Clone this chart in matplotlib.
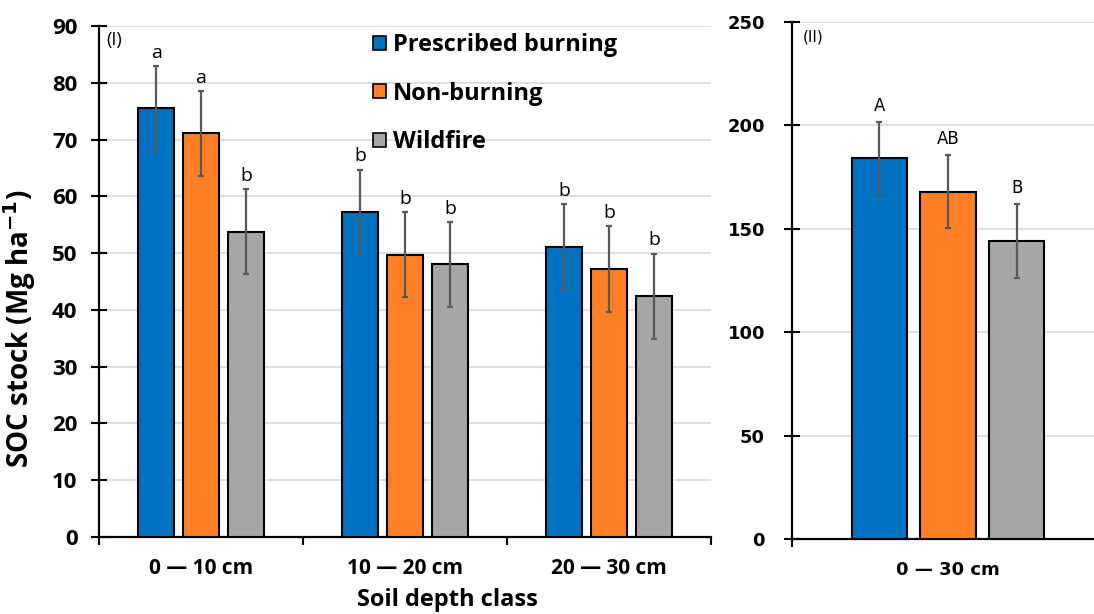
import numpy as np
import matplotlib
matplotlib.use("Agg")
import matplotlib.pyplot as plt
from matplotlib.patches import Patch

# left panel (I): by depth class
depths = ["0 \u2014 10 cm", "10 \u2014 20 cm", "20 \u2014 30 cm"]
treatments = ["Prescribed burning", "Non-burning", "Wildfire"]
stock_pb = [75.5, 57.2, 51.1]
stock_nb = [71.1, 49.7, 47.2]
stock_wf = [53.8, 48.0, 42.4]
err_pb = [7.5, 7.5, 7.5]
err_nb = [7.5, 7.5, 7.5]
err_wf = [7.5, 7.5, 7.5]
letters_pb = ["a", "b", "b"]
letters_nb = ["a", "b", "b"]
letters_wf = ["b", "b", "b"]

# right panel (II): whole profile
total_label = ["0 \u2014 30 cm"]
total_stock = [184.0, 168.0, 144.2]
total_err = [17.8, 17.7, 17.8]
total_letters = ["A", "AB", "B"]

colors = ["#0070C0", "#FF7F27", "#A6A6A6"]
err_color = "#595959"
grid_color = "#D9D9D9"
left_font = "Open Sans"
right_font = "DejaVu Sans"

fig = plt.figure(figsize=(10.94, 6.14), dpi=100)
ax1 = fig.add_axes([0.0905, 0.1254, 0.5595, 0.8323])
ax2 = fig.add_axes([0.724, 0.1221, 0.276, 0.8421])

width = 0.177
offset = 0.22

# ---- panel I
x = np.arange(len(depths))
series = [(stock_pb, err_pb, letters_pb), (stock_nb, err_nb, letters_nb), (stock_wf, err_wf, letters_wf)]
for i, (vals, errs, lets) in enumerate(series):
    xi = x + (i - 1) * offset
    ax1.bar(xi, vals, width, color=colors[i], edgecolor="black", linewidth=1.5, zorder=3)
    ax1.errorbar(xi, vals, yerr=errs, fmt="none", ecolor=err_color, elinewidth=1.6,
                 capsize=2.5, capthick=1.6, zorder=4)
    for xx, v, e, l in zip(xi, vals, errs, lets):
        ax1.annotate(l, (xx, v + e), xytext=(0, 3), textcoords="offset points",
                     ha="center", va="bottom", fontsize=14, family=left_font)

ax1.set_xlim(-0.5, 2.5)
ax1.set_ylim(0, 90)
ax1.set_yticks(range(0, 91, 10))
ax1.yaxis.grid(True, color=grid_color, linewidth=1.2, zorder=0)
ax1.set_axisbelow(True)
ax1.set_xticks([-0.5, 0.5, 1.5, 2.5])
ax1.set_xticklabels([])
ax1.set_xticks(x, minor=True)
ax1.set_xticklabels(depths, minor=True, fontsize=15, fontweight="bold", family=left_font)
ax1.tick_params(axis="x", which="major", direction="out", length=6, width=1.5)
ax1.tick_params(axis="x", which="minor", length=0, pad=15)
ax1.tick_params(axis="y", direction="inout", length=11, width=1.5, pad=10)
for lab in ax1.get_yticklabels():
    lab.set_fontsize(16)
    lab.set_fontweight("bold")
    lab.set_family(left_font)
for s in ["top", "right"]:
    ax1.spines[s].set_visible(False)
for s in ["left", "bottom"]:
    ax1.spines[s].set_linewidth(1.6)
ax1.set_ylabel("SOC stock (Mg ha$^{\\mathbf{-1}}$)", fontsize=20, fontweight="bold",
               family=left_font)
ax1.yaxis.set_label_coords(-0.1, 0.408)
ax1.set_xlabel("Soil depth class", fontsize=17, fontweight="bold", family=left_font)
ax1.xaxis.set_label_coords(0.57, -0.1)
ax1.text(0.012, 0.99, "(I)", transform=ax1.transAxes, ha="left", va="top",
         fontsize=13, family=left_font)

handles = [Patch(facecolor=c, edgecolor="black", linewidth=1.2) for c in colors]
ax1.legend(handles, treatments, loc="upper left", bbox_to_anchor=(0.432, 1.004),
           frameon=False, handlelength=0.55, handleheight=0.55, handletextpad=0.3,
           labelspacing=1.03, borderaxespad=0,
           prop={"family": left_font, "weight": "bold", "size": 17})

# ---- panel II
xt = np.array([0.0])
for i in range(3):
    xi = xt + (i - 1) * offset
    ax2.bar(xi, [total_stock[i]], width, color=colors[i], edgecolor="black", linewidth=1.5, zorder=3)
    ax2.errorbar(xi, [total_stock[i]], yerr=[total_err[i]], fmt="none", ecolor=err_color,
                 elinewidth=1.6, capsize=2.5, capthick=1.6, zorder=4)
    ax2.annotate(total_letters[i], (xi[0], total_stock[i] + total_err[i]), xytext=(0, 5),
                 textcoords="offset points", ha="center", va="bottom", fontsize=12,
                 family=right_font)

ax2.set_xlim(-0.5, 0.468)
ax2.set_ylim(0, 250)
ax2.set_yticks(range(0, 251, 50))
ax2.yaxis.grid(True, color=grid_color, linewidth=1.2, zorder=0)
ax2.set_axisbelow(True)
ax2.set_xticks([-0.5])
ax2.set_xticklabels([])
ax2.set_xticks(xt, minor=True)
ax2.set_xticklabels(total_label, minor=True, fontsize=13, fontweight="bold", family=right_font)
ax2.tick_params(axis="x", which="major", direction="out", length=6, width=1.5)
ax2.tick_params(axis="x", which="minor", length=0, pad=16)
ax2.tick_params(axis="y", direction="inout", length=11, width=1.5, pad=14)
for lab in ax2.get_yticklabels():
    lab.set_fontsize(13)
    lab.set_fontweight("bold")
    lab.set_family(right_font)
for s in ["top", "right"]:
    ax2.spines[s].set_visible(False)
for s in ["left", "bottom"]:
    ax2.spines[s].set_linewidth(1.6)
ax2.text(0.035, 0.985, "(II)", transform=ax2.transAxes, ha="left", va="top",
         fontsize=11, family=right_font)

fig.savefig("out.png", dpi=100)
